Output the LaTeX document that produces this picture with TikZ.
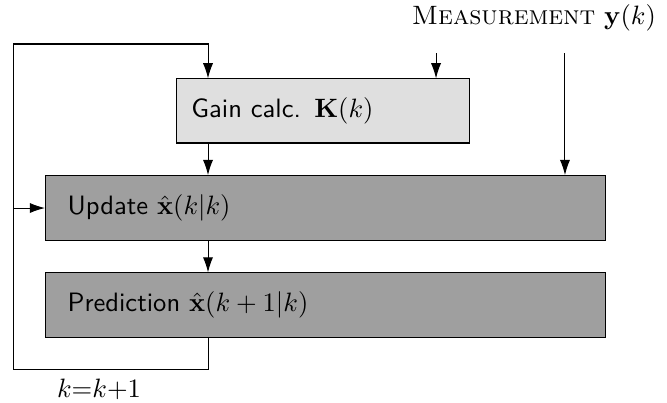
\RequirePackage{fix-cm}
\documentclass[tikz,border=0pt]{standalone}
\usetikzlibrary{arrows.meta}
\newcommand{\diagfont}{\fontsize{10.5}{12.6}\selectfont}
\begin{document}
\begin{tikzpicture}[>={Latex[length=6pt,width=4pt]},
        every node/.style={font=\diagfont},
        blk/.style={draw, anchor=west, align=left, font=\diagfont\sffamily, minimum height=0.89cm}]
            \useasboundingbox (0,0) rectangle (9.264,5.597);
            \node [blk, fill=gray!25, inner xsep=0.208cm, text width=3.653cm] (g) at (2.444,4.056) {Gain calc. $\mathbf{K}(k)$};
            \node [blk, fill=gray!75, inner xsep=0.306cm, text width=7.16cm, minimum height=0.9cm] (u) at (0.625,2.708) {Update $\hat{\mathbf{x}}(k|k)$};
            \node [blk, fill=gray!75, inner xsep=0.306cm, text width=7.16cm] (p) at (0.625,1.361) {Prediction $\hat{\mathbf{x}}(k+1|k)$};
            \node [anchor=base east] (m) at (9.235,5.25) {\textsc{Measurement} $\mathbf{y}(k)$};
            \node [anchor=base] (k) at (1.375,0.07) {$k{=}k{+}1$};
            %
            \coordinate (c) at (2.889,0);
            \coordinate (lb) at (0.181,0.472);
            \coordinate (lt) at (0.181,4.986);
            \coordinate (m1) at (6.056,4.861);
            \coordinate (m2) at (7.847,4.861);
            %
            \draw[->] (p.south -| c) |- (lb) -- (lt) -| (g.north -| c);
            \draw[->] (lb |- u.west) -- (u.west);
            \draw[->] (g.south -| c) -- (u.north -| c);
            \draw[->] (u.south -| c) -- (p.north -| c);
            \draw[->] (m1) -- (m1 |- g.north);
            \draw[->] (m2) -- (m2 |- u.north);
        \end{tikzpicture}
\end{document}
